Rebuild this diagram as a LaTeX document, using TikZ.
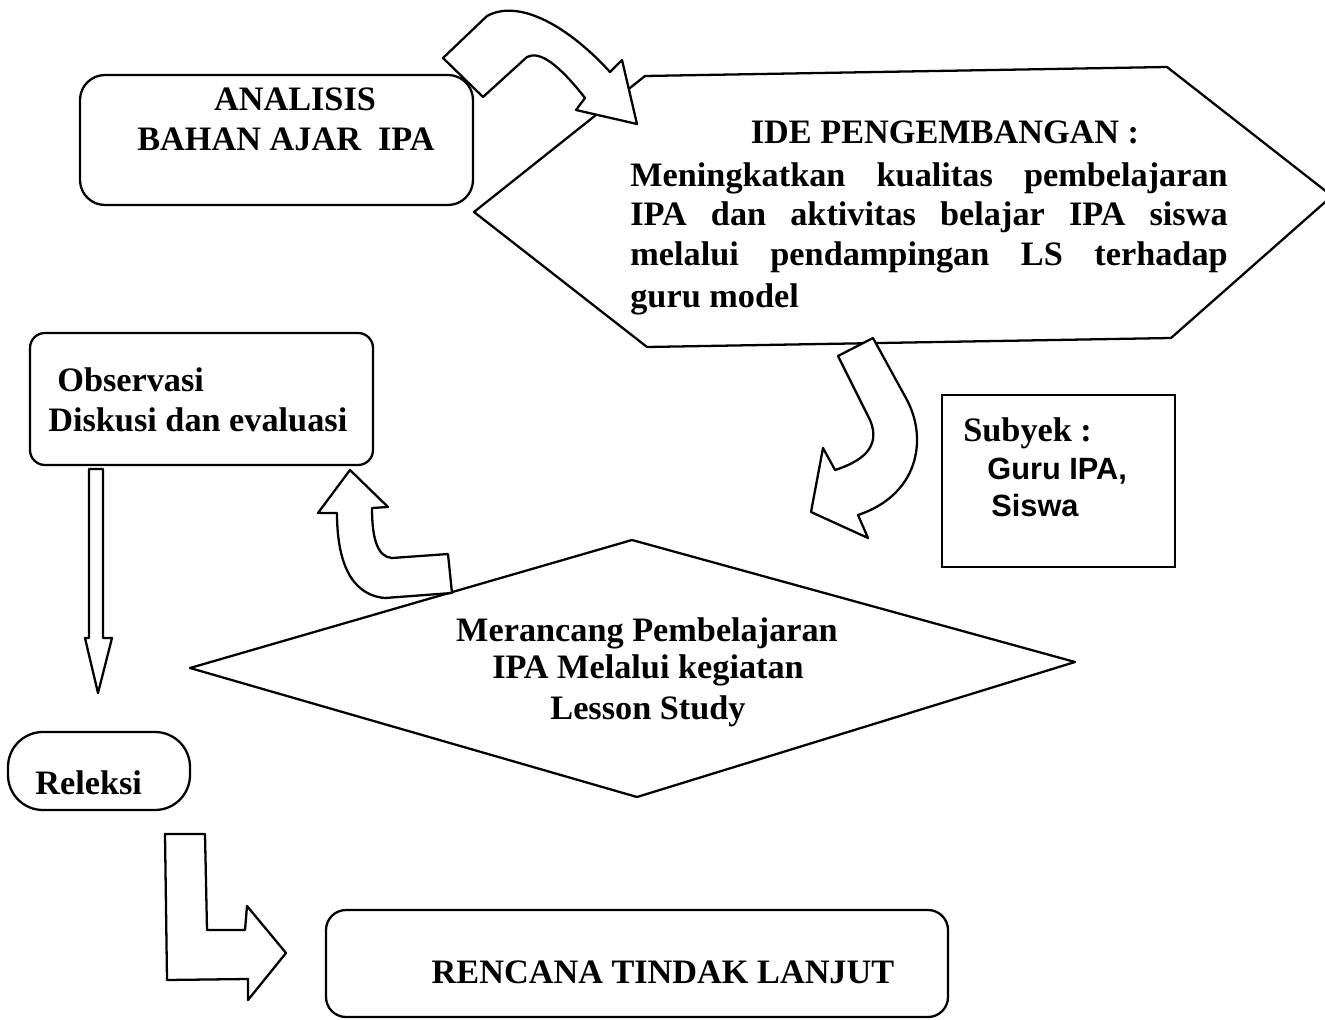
\documentclass[tikz,border=0pt]{standalone}
\usepackage{fontspec}
\setmainfont{Liberation Serif}
\newfontfamily\sansb{Liberation Sans}
\usetikzlibrary{fit}
\begin{document}
\begin{tikzpicture}[x=0.02cm,y=-0.02cm,
  txt/.style={font=\fontsize{19.5pt}{23pt}\selectfont\bfseries, inner sep=0pt, anchor=base},
  boxr/.style={draw, line width=1.3pt, inner sep=0pt},
  blk/.style={draw, line width=1.3pt, line join=round, fill=white}]
\useasboundingbox (0,0) rectangle (1325,1020);
\fill[white] (0,0) rectangle (1325,1020);

% boxes
\node (ana) [boxr, rounded corners=0.5cm, fit={(80,75) (473,205)}] {};
\node (obs) [boxr, rounded corners=0.3cm, fit={(30,333) (373,465)}] {};
\node (sub) [boxr, fit={(942,395) (1175,567)}] {};
\node (rel) [boxr, rounded corners=0.7cm, fit={(8,732) (190,810)}] {};
\node (rtl) [boxr, rounded corners=0.4cm, fit={(326,910) (948,1017)}] {};

% hexagon
\coordinate (h1) at (645,76);
\coordinate (h2) at (1167,67);
\coordinate (h3) at (1332,196);
\coordinate (h4) at (1171,338);
\coordinate (h5) at (647,347);
\coordinate (h6) at (474,212);
\draw[line width=1.3pt, line join=round] (h1) -- (h2) -- (h3) -- (h4) -- (h5) -- (h6) -- cycle;

% diamond
\coordinate (d1) at (632,540);
\coordinate (d2) at (1075,662);
\coordinate (d3) at (637,797);
\coordinate (d4) at (190,668);
\draw[line width=1.3pt, line join=round] (d1) -- (d2) -- (d3) -- (d4) -- cycle;

% texts
\node (t1) [txt] at (295,111) {ANALISIS};
\node (t2) [txt] at (286,151) {BAHAN AJAR\ \ IPA};
\node (t3) [txt] at (945,144) {IDE PENGEMBANGAN :};
\node (t4) [txt, anchor=base west] at (630,187) {\makebox[340pt][s]{Meningkatkan kualitas pembelajaran}};
\node (t5) [txt, anchor=base west] at (630,226) {\makebox[340pt][s]{IPA dan aktivitas belajar IPA siswa}};
\node (t6) [txt, anchor=base west] at (630,266) {\makebox[340pt][s]{melalui pendampingan LS terhadap}};
\node (t7) [txt, anchor=base west] at (630,308) {guru model};
\node (t8) [txt, anchor=base west] at (57,392) {Observasi};
\node (t9) [txt, anchor=base west] at (48,431) {Diskusi dan evaluasi};
\node (t10) [txt, anchor=base west] at (963,441) {Subyek :};
\node (t11) [txt, anchor=base west, font=\fontsize{17.5pt}{21pt}\sansb\bfseries] at (987,479) {Guru IPA,};
\node (t12) [txt, anchor=base west, font=\fontsize{17.5pt}{21pt}\sansb\bfseries] at (991,516) {Siswa};
\node (t13) [txt] at (647,641) {Merancang Pembelajaran};
\node (t14) [txt] at (648,678) {IPA Melalui kegiatan};
\node (t15) [txt] at (648,719) {Lesson Study};
\node (t16) [txt, anchor=base west] at (35,794) {Releksi};
\node (t17) [txt] at (663,983) {RENCANA TINDAK LANJUT};

% block arrows
% A: ANALISIS -> IDE
\draw[blk] (443,58) -- (487,16) .. controls (520,-2) and (570,28) .. (610,72)
  -- (622,60) -- (637,124) -- (576,110) -- (585,98)
  .. controls (560,66) and (540,50) .. (527,57) -- (483,97) -- cycle;
% B: IDE -> Merancang
\draw[blk] (838,356) -- (873,338) -- (907,400)
  .. controls (928,440) and (918,495) .. (858,515)
  -- (868,538) -- (811,512) -- (823,448) -- (835,470)
  .. controls (860,462) and (882,448) .. (870,420) -- cycle;
% C: Merancang -> Observasi
\draw[blk] (350,470) -- (388,507) -- (372,508)
  .. controls (372,540) and (378,557) .. (392,558)
  -- (448,554) -- (452,593) -- (385,598)
  .. controls (350,595) and (337,560) .. (337,513) -- (318,513) -- cycle;
% D: Observasi -> Releksi
\draw[blk] (89,469) -- (103,469) -- (103,638) -- (112,638) -- (98,693)
  -- (85,638) -- (89,638) -- cycle;
% E: Releksi -> Rencana
\draw[blk] (165,834) -- (205,834) -- (207,930) -- (245,930) -- (247,906)
  -- (286,953) -- (248,1000) -- (248,979) -- (167,980) -- cycle;
\end{tikzpicture}
\end{document}
